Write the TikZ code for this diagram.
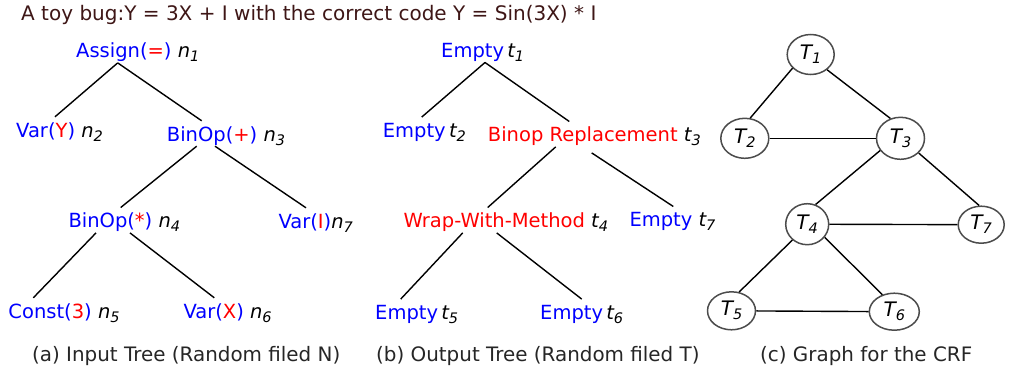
\documentclass[tikz,border=0pt]{standalone}
\usepackage{fontspec}
\setmainfont{DejaVu Sans}
\usetikzlibrary{shapes.geometric}
\definecolor{titlebrown}{RGB}{62,22,22}
\newcommand{\sub}[2]{{\itshape #1\raisebox{-4pt}{\fontsize{14.5}{14.5}\selectfont #2}}}
\newcommand{\bl}[1]{\textcolor{blue}{#1}}
\newcommand{\rd}[1]{\textcolor{red}{#1}}

\begin{document}
\begin{tikzpicture}[x=1pt, y=-1pt,
	treenode/.style={anchor=base west, inner sep=0pt, text height=20pt, text depth=5pt, font=\fontsize{19.5}{23}\selectfont},
	crfnode/.style={ellipse, draw=black!70, line width=1.5pt, minimum width=47pt, minimum height=40pt, inner sep=0pt, font=\fontsize{20}{24}\selectfont},
	link/.style={line width=1.4pt},
	subcap/.style={anchor=base west, inner sep=0pt, text=black!85, font=\fontsize{19.9}{23}\selectfont}]
	\useasboundingbox (0,0) rectangle (1009,370);
	
	% Title
	\node[anchor=base west, inner sep=0pt, text=titlebrown, font=\fontsize{20}{24}\selectfont] (title) at (21,20.7)
	{A toy bug:Y = 3X + I with the correct code Y = Sin(3X) * I};
	
	% (a) Input tree
	\node[treenode] (n1) at (76,57.7) {\bl{Assign(}\rd{=}\bl{)} \sub{n}{1}};
	\node[treenode] (n2) at (16,137) {\bl{Var(}\rd{Y}\bl{)} \sub{n}{2}};
	\node[treenode] (n3) at (166.7,141) {\bl{BinOp(}\rd{+}\bl{)} \sub{n}{3}};
	\node[treenode] (n4) at (68.3,227.7) {\bl{BinOp(}\rd{*}\bl{)} \sub{n}{4}};
	\node[treenode] (n7) at (278.3,228) {\bl{Var(}\rd{I}\bl{)}\sub{n}{7}};
	\node[treenode] (n5) at (8.3,318) {\bl{Const(}\rd{3}\bl{)} \sub{n}{5}};
	\node[treenode] (n6) at (183.3,318) {\bl{Var(}\rd{X}\bl{)} \sub{n}{6}};
	
	\draw[link] ([xshift=41.7]n1.south west) -- ([xshift=39]n2.north west);
	\draw[link] ([xshift=41.7]n1.south west) -- ([xshift=35]n3.north west);
	\draw[link] ([xshift=30]n3.south west) -- ([xshift=52.4]n4.north west);
	\draw[link] ([xshift=48.3]n3.south west) -- ([xshift=27.7]n7.north west);
	\draw[link] ([xshift=27.7]n4.south west) -- ([xshift=25]n5.north west);
	\draw[link] ([xshift=61.7]n4.south west) -- ([xshift=31]n6.north west);
	
	% (b) Output tree
	\node[treenode] (t1) at (441,57.3) {\bl{Empty}\,\sub{t}{1}};
	\node[treenode] (t2) at (382.7,137.3) {\bl{Empty}\,\sub{t}{2}};
	\node[treenode] (t3) at (487.7,141.7) {\rd{Binop Replacement} \sub{t}{3}};
	\node[treenode] (t4) at (403.3,227.7) {\rd{Wrap-With-Method} \sub{t}{4}};
	\node[treenode] (t7) at (629.3,226.7) {\bl{Empty} \sub{t}{7}};
	\node[treenode] (t5) at (375,319.3) {\bl{Empty}\,\sub{t}{5}};
	\node[treenode] (t6) at (540,319.3) {\bl{Empty}\,\sub{t}{6}};
	
	\draw[link] ([xshift=44]t1.south west) -- ([xshift=39]t2.north west);
	\draw[link] ([xshift=44]t1.south west) -- ([xshift=81.6]t3.north west);
	\draw[link] ([xshift=68]t3.south west) -- ([xshift=84.4]t4.north west);
	\draw[link] ([xshift=104,yshift=-6]t3.south west) -- ([xshift=44]t7.north west);
	\draw[link] ([xshift=59.4]t4.south west) -- ([xshift=25.7]t5.north west);
	\draw[link] ([xshift=93.4]t4.south west) -- ([xshift=41.7]t6.north west);
	
	% (c) Graph for the CRF
	\node[crfnode] (T1) at (810.7,54.5) {\sub{T}{1}};
	\node[crfnode, minimum width=48pt] (T2) at (744.8,138.3) {\sub{T}{2}};
	\node[crfnode, minimum width=48pt, minimum height=42pt] (T3) at (900.5,138.3) {\sub{T}{3}};
	\node[crfnode, minimum width=43pt, minimum height=41pt] (T4) at (807.2,224.2) {\sub{T}{4}};
	\node[crfnode, minimum width=46pt, minimum height=37pt] (T7) at (981.2,224.7) {\sub{T}{7}};
	\node[crfnode, minimum width=48pt, minimum height=38pt] (T5) at (731.5,310.8) {\sub{T}{5}};
	\node[crfnode, minimum width=50pt, minimum height=37pt] (T6) at (894.3,311.7) {\sub{T}{6}};
	
	\draw[link] (T1.-143) -- (T2.75);
	\draw[link] (T1.-43) -- (T3.117);
	\draw[link] (T2) -- (T3);
	\draw[link] (T3.211) -- (T4.67);
	\draw[link] (T3.-39) -- (T7.96);
	\draw[link] (T4) -- (T7);
	\draw[link] (T4.227) -- (T5.68);
	\draw[link] (T4.-37) -- (T6.125);
	\draw[link] (T5) -- (T6);
	
	% Captions
	\node[subcap] (capa) at (32,361.7) {(a) Input Tree (Random filed N)};
	\node[subcap] (capb) at (376,361.7) {(b) Output Tree (Random filed T)};
	\node[subcap] (capc) at (760,361.7) {(c) Graph for the CRF};
\end{tikzpicture}
\end{document}
